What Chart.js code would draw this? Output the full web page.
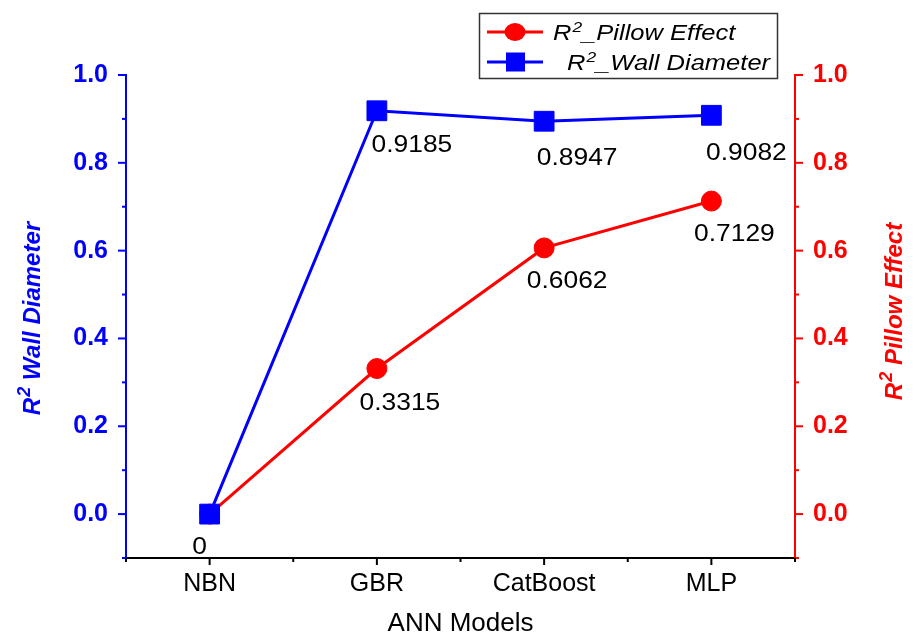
<!DOCTYPE html>
<html>
<head>
<meta charset="utf-8">
<script src="https://cdn.jsdelivr.net/npm/chart.js@4.4.1/dist/chart.umd.min.js"></script>
<style>
  html, body { margin: 0; padding: 0; background: #fff; }
  #wrap { width: 916px; height: 637px; }
</style>
</head>
<body>
<div id="wrap"><canvas id="chart" width="916" height="637"></canvas></div>
<script>
// data
const models = ['NBN', 'GBR', 'CatBoost', 'MLP'];
const wallDiameter = [0, 0.9185, 0.8947, 0.9082];
const pillowEffect = [0, 0.3315, 0.6062, 0.7129];
const yTickLabels = [0.0, 0.2, 0.4, 0.6, 0.8, 1.0];

const FONT = '"Liberation Sans", Arial, sans-serif';
const BLUE = '#0000ff';
const RED = '#ff0000';

// where each value label sits relative to its point (dx, dy), null = no label
const labelOffsets = [
  [[-10, 33], [35, 35], [33, 37], [35, 38]],   // wall diameter
  [null, [23, 35], [23, 33], [23, 33]]          // pillow effect
];

function stretchText(ctx, str, x, y, font, sx, align) {
  ctx.save();
  ctx.font = font;
  const w = ctx.measureText(str).width * sx;
  const x0 = align === 'center' ? x - w / 2 : x;
  ctx.translate(x0, y);
  ctx.scale(sx, 1);
  ctx.textAlign = 'left';
  ctx.fillText(str, 0, 0);
  ctx.restore();
  return w;
}

const isLabelTick = v => yTickLabels.some(t => Math.abs(t - v) < 1e-6);

const extrasPlugin = {
  id: 'extras',
  afterDraw(chart) {
    const ctx = chart.ctx;
    const {x, y, y2} = chart.scales;
    const area = chart.chartArea;

    // tick marks
    ctx.save();
    ctx.lineWidth = 2;
    y.ticks.forEach(t => {
      const py = y.getPixelForValue(t.value);
      const len = isLabelTick(t.value) ? 8 : 4;
      ctx.strokeStyle = BLUE;
      ctx.beginPath(); ctx.moveTo(area.left - len, py); ctx.lineTo(area.left, py); ctx.stroke();
    });
    y2.ticks.forEach(t => {
      const py = y2.getPixelForValue(t.value);
      const len = isLabelTick(t.value) ? 8 : 4;
      ctx.strokeStyle = RED;
      ctx.beginPath(); ctx.moveTo(area.right, py); ctx.lineTo(area.right + len, py); ctx.stroke();
    });
    x.ticks.forEach(t => {
      const px = x.getPixelForValue(t.value);
      const len = Number.isInteger(t.value) ? 7 : 4;
      ctx.strokeStyle = '#000';
      ctx.beginPath(); ctx.moveTo(px, area.bottom); ctx.lineTo(px, area.bottom + len); ctx.stroke();
    });
    ctx.restore();

    // value labels
    ctx.save();
    ctx.fillStyle = '#000';
    ctx.textBaseline = 'middle';
    chart.data.datasets.forEach((ds, di) => {
      chart.getDatasetMeta(di).data.forEach((pt, i) => {
        const off = labelOffsets[di][i];
        if (!off) return;
        stretchText(ctx, String(ds.data[i].y), pt.x + off[0], pt.y + off[1], '24px ' + FONT, 1.1, 'center');
      });
    });
    ctx.restore();

    // rotated axis titles with superscript
    const axisTitle = (cx, cy, color, rest) => {
      ctx.save();
      ctx.translate(cx, cy);
      ctx.rotate(-Math.PI / 2);
      ctx.fillStyle = color;
      ctx.textBaseline = 'middle';
      ctx.textAlign = 'left';
      const big = 'italic bold 24px ' + FONT;
      const sup = 'italic bold 18px ' + FONT;
      ctx.font = big; const wR = ctx.measureText('R').width;
      ctx.font = sup; const w2 = ctx.measureText('2').width;
      ctx.font = big; const wRest = ctx.measureText(rest).width;
      let sx = -(wR + w2 + wRest) / 2;
      ctx.font = big; ctx.fillText('R', sx, 0); sx += wR + 1;
      ctx.font = sup; ctx.fillText('2', sx, -8); sx += w2;
      ctx.font = big; ctx.fillText(rest, sx, 0);
      ctx.restore();
    };
    axisTitle(33, 319, BLUE, ' Wall Diameter');
    axisTitle(895, 312, RED, ' Pillow Effect');

    // legend
    ctx.save();
    ctx.strokeStyle = '#333';
    ctx.lineWidth = 1.5;
    ctx.strokeRect(479.5, 13.5, 298, 65);
    const legendRow = (cy, color, marker, tx, rest) => {
      ctx.strokeStyle = color;
      ctx.fillStyle = color;
      ctx.lineWidth = 3;
      ctx.beginPath(); ctx.moveTo(487, cy); ctx.lineTo(543, cy); ctx.stroke();
      if (marker === 'circle') {
        ctx.beginPath(); ctx.ellipse(515, cy, 10.5, 9, 0, 0, Math.PI * 2); ctx.fill();
      } else {
        ctx.fillRect(506, cy - 9.5, 19, 19);
      }
      ctx.fillStyle = '#000';
      ctx.textBaseline = 'alphabetic';
      const base = cy + 8;
      let px = tx;
      px += stretchText(ctx, 'R', px, base, 'italic 22px ' + FONT, 1.16);
      px += stretchText(ctx, '2', px + 1, base - 8, 'italic 15px ' + FONT, 1.16) + 1;
      stretchText(ctx, rest, px, base, 'italic 22px ' + FONT, 1.16);
    };
    legendRow(32, RED, 'circle', 553, '_Pillow Effect');
    legendRow(62, BLUE, 'rect', 567, '_Wall Diameter');
    ctx.restore();
  }
};

const toPoints = arr => arr.map((v, i) => ({x: i, y: v}));

new Chart(document.getElementById('chart').getContext('2d'), {
  type: 'line',
  data: {
    datasets: [
      {
        label: 'R2_Wall Diameter',
        data: toPoints(wallDiameter),
        yAxisID: 'y',
        borderColor: BLUE,
        backgroundColor: BLUE,
        borderWidth: 3,
        pointStyle: 'rect',
        pointRadius: 14,
        pointBorderWidth: 1,
        clip: false
      },
      {
        label: 'R2_Pillow Effect',
        data: toPoints(pillowEffect),
        yAxisID: 'y2',
        borderColor: RED,
        backgroundColor: RED,
        borderWidth: 3,
        pointStyle: 'circle',
        pointRadius: 10,
        pointBorderWidth: 1,
        clip: false
      }
    ]
  },
  options: {
    responsive: false,
    animation: false,
    devicePixelRatio: 1,
    layout: { padding: { top: 75, left: 0, right: 0, bottom: 0 } },
    plugins: {
      legend: { display: false },
      tooltip: { enabled: false }
    },
    scales: {
      x: {
        type: 'linear',
        min: -0.5,
        max: 3.5,
        afterFit: s => { s.height = 79; },
        grid: { display: false, drawTicks: false },
        border: { color: '#000', width: 2 },
        ticks: {
          stepSize: 0.5,
          autoSkip: false,
          maxRotation: 0,
          padding: 11,
          color: '#000',
          font: { family: FONT, size: 25 },
          callback: v => (Number.isInteger(v) && models[v] !== undefined) ? models[v] : ''
        },
        title: {
          display: true,
          text: 'ANN Models',
          color: '#000',
          font: { family: FONT, size: 26 },
          padding: { top: 0, bottom: -2 }
        }
      },
      y: {
        position: 'left',
        min: -0.1,
        max: 1.0,
        afterFit: s => { s.width = 126; },
        grid: { display: false, drawTicks: false },
        border: { color: BLUE, width: 2 },
        ticks: {
          stepSize: 0.1,
          autoSkip: false,
          padding: 18,
          color: BLUE,
          font: { family: FONT, size: 25, weight: 'bold' },
          callback: v => isLabelTick(v) ? v.toFixed(1) : ''
        }
      },
      y2: {
        position: 'right',
        min: -0.1,
        max: 1.0,
        afterFit: s => { s.width = 121; },
        grid: { display: false, drawTicks: false },
        border: { color: RED, width: 2 },
        ticks: {
          stepSize: 0.1,
          autoSkip: false,
          padding: 18,
          color: RED,
          font: { family: FONT, size: 25, weight: 'bold' },
          callback: v => isLabelTick(v) ? v.toFixed(1) : ''
        }
      }
    }
  },
  plugins: [extrasPlugin]
});
</script>
</body>
</html>
